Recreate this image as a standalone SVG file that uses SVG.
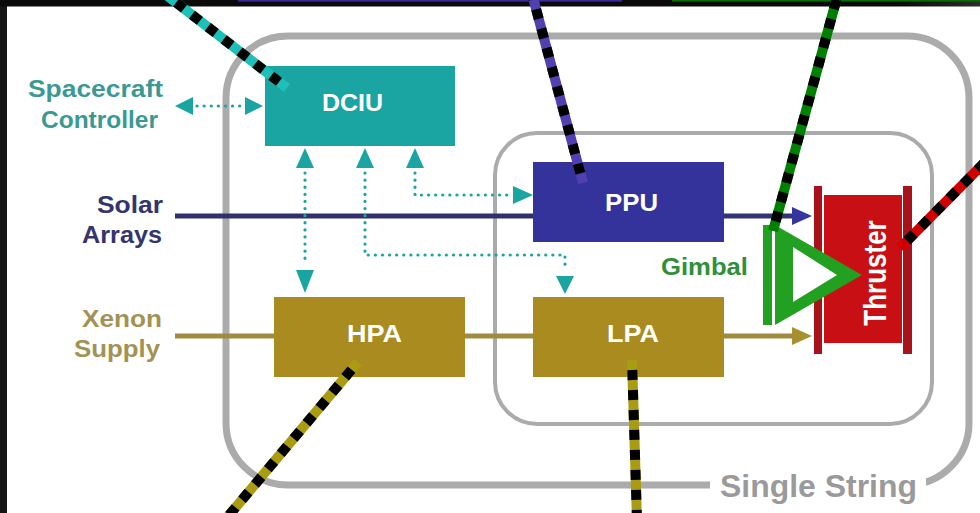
<svg xmlns="http://www.w3.org/2000/svg" width="980" height="513" viewBox="0 0 980 513">
<defs>
<linearGradient id="topfade" x1="0" y1="0" x2="1" y2="0">
<stop offset="0" stop-color="#0a0a0a"/>
<stop offset="1" stop-color="#2c2c2c"/>
</linearGradient>
</defs>
<style>
.lbl{font-family:"Liberation Sans",Arial,sans-serif;font-weight:bold;font-size:24px}
.box{font-family:"Liberation Sans",Arial,sans-serif;font-weight:bold;font-size:23px;fill:#ffffff}
.frame{fill:none;stroke:#ababab}
.dot{fill:none;stroke:#1aa5a2;stroke-width:3.2;stroke-linecap:round;stroke-dasharray:0.1 7}
.tealhead{fill:#1aa5a2}
.lead{fill:none;stroke-width:10}
.leadk{fill:none;stroke:#000;stroke-width:10;stroke-dasharray:10 10;stroke-dashoffset:10}
</style>
<rect x="0" y="0" width="980" height="513" fill="#ffffff"/>
<rect x="0" y="0" width="7" height="513" fill="#161616"/>
<rect x="0" y="0" width="900" height="6.5" fill="#0a0a0a"/>
<rect x="900" y="0" width="80" height="6.5" fill="url(#topfade)"/>
<rect x="238" y="0" width="384" height="1.6" fill="#3a2a9a"/>
<rect x="672" y="0" width="308" height="1.6" fill="#0a6a0a"/>

<g id="single-string">
<rect class="frame" x="226" y="36" width="743" height="449" rx="62" ry="62" stroke-width="7"/>
<rect x="710" y="470" width="216" height="34" fill="#ffffff"/>
<text x="720" y="497" class="lbl" style="font-size:31px" fill="#9a9a9a" textLength="197" lengthAdjust="spacingAndGlyphs">Single String</text>
</g>
<g id="inner-group">
<rect class="frame" x="495" y="133" width="437" height="291" rx="42" ry="42" stroke-width="4" stroke="#b0b0b0"/>
</g>

<g id="connectors">
<line x1="175" y1="216" x2="533" y2="216" stroke="#30306e" stroke-width="5"/>
<line x1="724" y1="216" x2="794" y2="216" stroke="#33337a" stroke-width="5"/>
<polygon points="812,216 792,207 792,225" fill="#3535a0"/>
<line x1="175" y1="336" x2="274" y2="336" stroke="#a08c40" stroke-width="5"/>
<line x1="465" y1="336" x2="533" y2="336" stroke="#a08c40" stroke-width="5"/>
<line x1="724" y1="336" x2="794" y2="336" stroke="#a08c40" stroke-width="5"/>
<polygon points="812,336 792,327 792,345" fill="#a89030"/>
<polyline class="dot" points="197,106 242,106"/>
<polygon class="tealhead" points="175,106 193,97 193,115"/>
<polygon class="tealhead" points="263,106 245,97 245,115"/>
<polyline class="dot" points="305,173 305,265"/>
<polygon class="tealhead" points="305,148 296,168 314,168"/>
<polygon class="tealhead" points="305,293 296,270 314,270"/>
<polyline class="dot" points="365,173 365,255 565,255 565,268"/>
<polygon class="tealhead" points="365,148 356,168 374,168"/>
<polygon class="tealhead" points="565,294 556,276 574,276"/>
<polyline class="dot" points="415,173 415,195 510,195"/>
<polygon class="tealhead" points="415,148 406,168 424,168"/>
<polygon class="tealhead" points="533,195 513,186 513,204"/>
</g>

<g id="spacecraft-controller">
<text class="lbl" x="163" y="97" text-anchor="end" fill="#3a9a92" textLength="135" lengthAdjust="spacingAndGlyphs">Spacecraft</text>
<text class="lbl" x="158" y="128" text-anchor="end" fill="#3a9a92" textLength="117" lengthAdjust="spacingAndGlyphs">Controller</text>
</g>
<g id="solar-arrays">
<text class="lbl" x="163" y="213" text-anchor="end" fill="#34346e" textLength="66" lengthAdjust="spacingAndGlyphs">Solar</text>
<text class="lbl" x="162" y="243" text-anchor="end" fill="#34346e" textLength="80" lengthAdjust="spacingAndGlyphs">Arrays</text>
</g>
<g id="xenon-supply">
<text class="lbl" x="162" y="327" text-anchor="end" fill="#a39254" textLength="80" lengthAdjust="spacingAndGlyphs">Xenon</text>
<text class="lbl" x="160" y="357" text-anchor="end" fill="#a39254" textLength="86" lengthAdjust="spacingAndGlyphs">Supply</text>
</g>

<g id="dciu">
<rect x="265" y="66" width="190" height="80" fill="#1aa5a2"/>
<text class="box" x="322" y="111" textLength="61" lengthAdjust="spacingAndGlyphs">DCIU</text>
</g>
<g id="ppu">
<rect x="533" y="162" width="191" height="80" fill="#33339b"/>
<text class="box" x="605" y="211" textLength="53" lengthAdjust="spacingAndGlyphs">PPU</text>
</g>
<g id="hpa">
<rect x="274" y="297" width="191" height="80" fill="#a98b1f"/>
<text class="box" x="347" y="342" textLength="55" lengthAdjust="spacingAndGlyphs">HPA</text>
</g>
<g id="lpa">
<rect x="533" y="297" width="191" height="80" fill="#a98b1f"/>
<text class="box" x="607" y="342" textLength="52" lengthAdjust="spacingAndGlyphs">LPA</text>
</g>
<g id="thruster">
<rect x="814" y="186" width="8" height="168" fill="#a8121a"/>
<rect x="903" y="186" width="9" height="168" fill="#a8121a"/>
<rect x="824" y="195" width="78" height="148" fill="#c80f14"/>
<text class="box" style="font-size:26px" transform="translate(875,273) scale(1.2,1) rotate(-90)" x="0" y="9" text-anchor="middle">Thruster</text>
</g>
<g id="gimbal">
<rect x="763" y="225" width="9" height="100" fill="#22a022"/>
<polygon points="775,225 862,275 775,325" fill="#22a022"/>
<polygon points="793,247 837,275 793,302" fill="#ffffff"/>
<text class="lbl" x="661" y="275" fill="#2f8f3a" textLength="87" lengthAdjust="spacingAndGlyphs">Gimbal</text>
</g>

<g id="leaders">
<line class="lead" x1="287" y1="88" x2="165" y2="-6" stroke="#1cc0b8"/>
<line class="leadk" x1="287" y1="88" x2="165" y2="-6"/>
<line class="lead" x1="583" y1="183" x2="532" y2="-6" stroke="#5040b0"/>
<line class="leadk" x1="583" y1="183" x2="532" y2="-6"/>
<line class="lead" x1="773" y1="231" x2="838" y2="-6" stroke="#008000"/>
<line class="leadk" x1="773" y1="231" x2="838" y2="-6"/>
<line class="lead" x1="900" y1="248" x2="990" y2="157" stroke="#d00000"/>
<line class="leadk" x1="900" y1="248" x2="990" y2="157"/>
<line class="lead" x1="358" y1="362" x2="225" y2="520" stroke="#a99c12"/>
<line class="leadk" x1="358" y1="362" x2="225" y2="520"/>
<line class="lead" x1="632" y1="360" x2="637" y2="520" stroke="#a99c12"/>
<line class="leadk" x1="632" y1="360" x2="637" y2="520"/>
</g>
</svg>
